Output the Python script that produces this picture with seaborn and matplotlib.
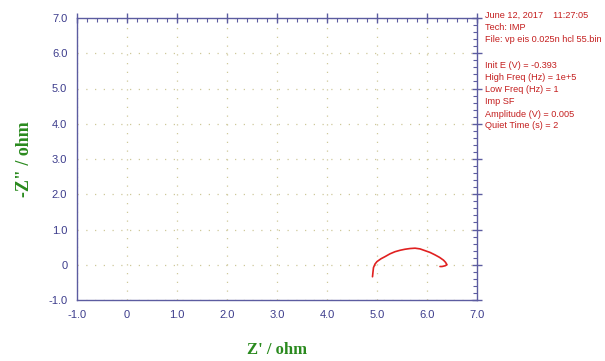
import numpy as np
import pandas as pd
import matplotlib
matplotlib.use('Agg')
import matplotlib.pyplot as plt
import seaborn as sns
from matplotlib.ticker import MultipleLocator, FixedFormatter, FixedLocator

# --- Data ---
z_real = [4.91, 4.92, 4.93, 4.96, 5.00, 5.08, 5.16, 5.26, 5.36, 5.46, 5.56, 5.66,
          5.76, 5.86, 5.96, 6.06, 6.16, 6.25, 6.33, 6.37, 6.40, 6.36, 6.30, 6.26]
z_imag = [-0.34, -0.20, -0.08, 0.02, 0.09, 0.17, 0.23, 0.31, 0.37, 0.41, 0.44, 0.46,
          0.47, 0.45, 0.40, 0.35, 0.28, 0.21, 0.13, 0.07, 0.00, -0.03, -0.05, -0.05]

tick_vals = [-1, 0, 1, 2, 3, 4, 5, 6, 7]
tick_labels = ['-1.0', '0', '1.0', '2.0', '3.0', '4.0', '5.0', '6.0', '7.0']

info_head = ['June 12, 2017    11:27:05', 'Tech: IMP', 'File: vp eis 0.025n hcl 55.bin']
info_params = ['Init E (V) = -0.393', 'High Freq (Hz) = 1e+5', 'Low Freq (Hz) = 1',
               'Imp SF', 'Amplitude (V) = 0.005', 'Quiet Time (s) = 2']

df = pd.DataFrame({'zr': z_real, 'zi': z_imag})

# --- Style ---
sns.set_theme(style="white")
plt.rcParams['font.family'] = ['Liberation Sans', 'DejaVu Sans']

axis_col = '#5c5ca0'
label_col = '#3c3c8c'
green = '#2a8a1e'
red = '#c41e1e'

fig = plt.figure(figsize=(6.05, 3.61), dpi=100)
ax = fig.add_axes([77 / 605, 61 / 361, 400 / 605, 282 / 361])

sns.lineplot(data=df, x='zr', y='zi', sort=False, color='#e02020', lw=1.2, ax=ax)

ax.set_xlim(-1, 7)
ax.set_ylim(-1, 7)
ax.xaxis.set_major_locator(FixedLocator(tick_vals))
ax.xaxis.set_major_formatter(FixedFormatter(tick_labels))
ax.yaxis.set_major_locator(FixedLocator(tick_vals))
ax.yaxis.set_major_formatter(FixedFormatter(tick_labels))
ax.xaxis.set_minor_locator(MultipleLocator(0.2))
ax.yaxis.set_minor_locator(MultipleLocator(0.2))

for s in ax.spines.values():
    s.set_color(axis_col)
    s.set_linewidth(1.0)

ax.tick_params(which='both', colors=axis_col, labelcolor=label_col, labelsize=8,
               top=True, right=True)
ax.tick_params(axis='both', which='major', direction='inout', length=7, width=1)
ax.tick_params(axis='both', which='minor', direction='in', length=3, width=0.8)

ax.grid(True, which='major', color='#cfc89a', linestyle=(0, (1, 6)), lw=0.9)

ax.set_xlabel("Z' / ohm", family='Liberation Serif', fontweight='bold', fontsize=12,
              color=green, labelpad=16)
ax.set_ylabel('-Z" / ohm', family='Liberation Serif', fontweight='bold', fontsize=13,
              color=green, labelpad=11)

# --- Experiment info text ---
y0 = 1 - 15 / 361
for i, line in enumerate(info_head):
    fig.text(485 / 605, y0 - i * 12 / 361, line, color=red, fontsize=6.6, va='center')
y1 = 1 - 66 / 361
for i, line in enumerate(info_params):
    fig.text(485 / 605, y1 - i * 12 / 361, line, color=red, fontsize=6.6, va='center')

fig.savefig('out.png', dpi=100)
